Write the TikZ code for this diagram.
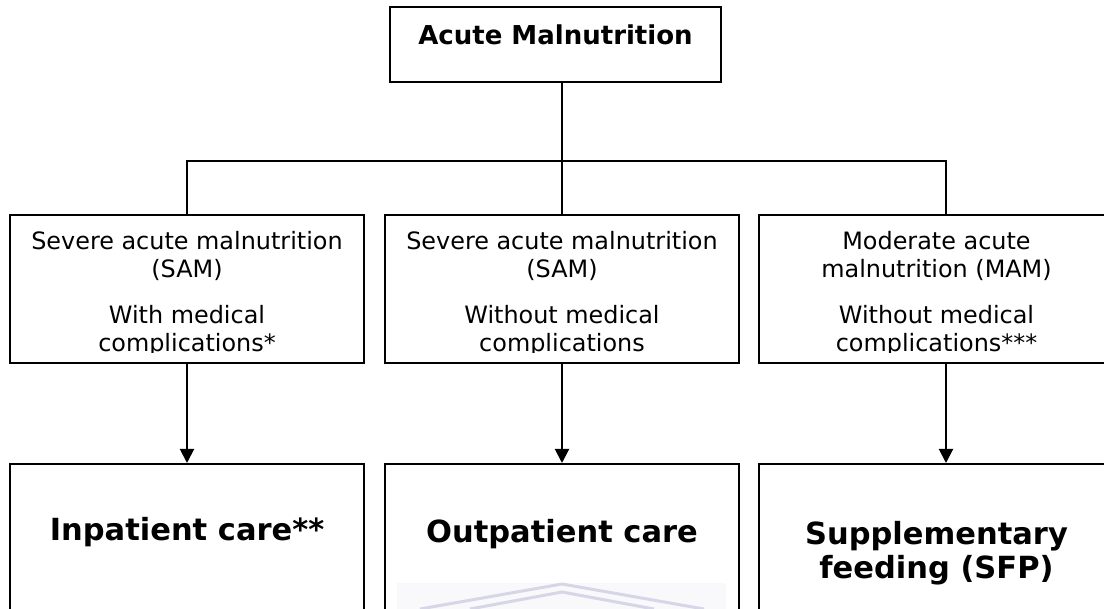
\documentclass[tikz,border=0pt]{standalone}
\usepackage{fontspec}
\setmainfont{DejaVu Sans}
\usetikzlibrary{arrows.meta}
\definecolor{wmline}{RGB}{214,214,232}
\definecolor{wmfill}{RGB}{249,249,251}
\tikzset{
  box/.style={draw, line width=2pt, rectangle, inner sep=0pt},
  midbox/.style={box, minimum width=354pt, minimum height=148pt},
  lowbox/.style={box, minimum width=354pt, minimum height=200pt},
  txt/.style={font=\fontsize{23.9}{28}\selectfont, inner sep=0pt, anchor=base},
  btxt/.style={font=\fontsize{30.5}{33}\selectfont\bfseries, inner sep=0pt, anchor=base},
  ttxt/.style={font=\fontsize{26}{30}\selectfont\bfseries, inner sep=0pt, anchor=base},
  conn/.style={line width=2pt},
  arr/.style={line width=2pt, -{Triangle[width=14pt,length=14pt]}},
  wm/.style={draw=wmline, line width=3pt}
}
\begin{document}
\begin{tikzpicture}[x=1pt,y=-1pt]
\useasboundingbox (0,0) rectangle (1104,609);
\clip (0,0) rectangle (1104,609);
\fill[white] (0,0) rectangle (1104,609);

% top box
\node[box, minimum width=331pt, minimum height=75pt] (top) at (555.5,44.5) {};
\node[ttxt] (toptxt) at (555.5,45) {Acute Malnutrition};

% middle boxes
\node[midbox] (m1) at (187,289) {};
\node[midbox] (m2) at (562,289) {};
\node[midbox, minimum width=355pt] (m3) at (936.5,289) {};

% bottom boxes
\node[lowbox] (b1) at (187,564) {};
\node[lowbox] (b2) at (562,564) {};
\node[lowbox, minimum width=355pt] (b3) at (936.5,564) {};

% watermark (faint)
\fill[wmfill] (397,583) rectangle (726,609);
\draw[wm] (420,609) -- (562,584) -- (704,609);
\draw[wm] (470,609) -- (562,592) -- (654,609);

% middle texts, clipped like the original text boxes
\begin{scope}
\clip (0,215) rectangle (1104,353);
\node[txt] (m1a) at (187,250) {Severe acute malnutrition};
\node[txt] (m1b) at (187,278) {(SAM)};
\node[txt] (m1c) at (187,324) {With medical};
\node[txt] (m1d) at (187,352) {complications*};
\node[txt] (m2a) at (562,250) {Severe acute malnutrition};
\node[txt] (m2b) at (562,278) {(SAM)};
\node[txt] (m2c) at (562,324) {Without medical};
\node[txt] (m2d) at (562,352) {complications};
\node[txt] (m3a) at (936.5,250) {Moderate acute};
\node[txt] (m3b) at (936.5,278) {malnutrition (MAM)};
\node[txt] (m3c) at (936.5,324) {Without medical};
\node[txt] (m3d) at (936.5,352) {complications***};
\end{scope}

% bottom texts
\node[btxt] (b1t) at (187,541) {Inpatient care**};
\node[btxt] (b2t) at (562,543) {Outpatient care};
\node[btxt] (b3a) at (936.5,545) {Supplementary};
\node[btxt] (b3b) at (936.5,578) {feeding (SFP)};

% connectors
\coordinate (hl) at (562,161);
\coordinate (r3) at (946,161);
\draw[conn] (m2.north) -- (m2.north |- top.south);
\draw[conn] (m1.north) -- (m1.north |- hl) -- (r3) -- (r3 |- m3.north);

\draw[arr] (m1.south) -- (b1.north);
\draw[arr] (m2.south) -- (b2.north);
\draw[arr] (r3 |- m3.south) -- (r3 |- b3.north);
\end{tikzpicture}
\end{document}
